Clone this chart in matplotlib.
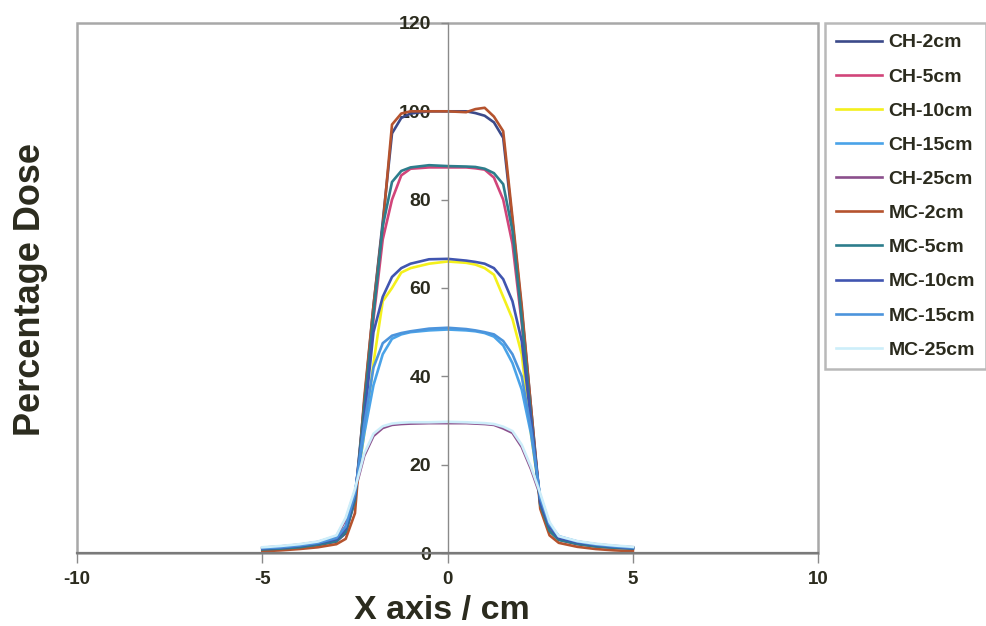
import matplotlib.pyplot as plt
from matplotlib.patches import Rectangle

# off-axis positions (cm)
x_pos = [-5, -4.5, -4, -3.5, -3, -2.75, -2.5, -2.25, -2, -1.75, -1.5, -1.25, -1, -0.5,
         0, 0.5, 0.75, 1, 1.25, 1.5, 1.75, 2, 2.25, 2.5, 2.75, 3, 3.5, 4, 4.5, 5]

# percentage dose profiles, convolution/superposition (CH) and Monte Carlo (MC)
ch_2 = [0.8, 1.0, 1.3, 1.8, 2.6, 4.5, 12, 34, 56, 75, 95, 98.5, 99.5, 100,
        100, 100, 99.6, 99, 97.5, 94, 75, 55, 33, 11, 5, 3, 2, 1.5, 1.2, 1.0]
ch_5 = [0.9, 1.1, 1.4, 2.0, 2.8, 5, 12.5, 32, 53, 71, 80, 85.5, 87, 87.3,
        87.3, 87.3, 87.1, 86.8, 85, 80, 70, 52, 31, 11.5, 5.5, 3.2, 2.2, 1.6, 1.3, 1.1]
ch_10 = [1.0, 1.2, 1.6, 2.2, 3.1, 5.5, 13, 27, 43, 57, 60, 63.5, 64.5, 65.5,
         66, 65.7, 65.3, 64.5, 63, 58, 53, 45, 27, 12, 6, 3.5, 2.4, 1.8, 1.4, 1.2]
ch_15 = [1.1, 1.3, 1.7, 2.3, 3.3, 6, 13.5, 27, 38, 45, 48.5, 49.5, 50, 50.4,
         50.6, 50.4, 50.2, 49.8, 49, 47, 43, 37, 27, 12.5, 6.5, 3.7, 2.5, 1.9, 1.5, 1.2]
ch_25 = [1.2, 1.5, 1.9, 2.5, 3.8, 7.5, 14, 22, 26.5, 28.3, 29, 29.2, 29.3, 29.4,
         29.4, 29.4, 29.3, 29.2, 29, 28.2, 27.2, 24, 19, 13, 6.5, 3.6, 2.6, 2.0, 1.6, 1.3]
mc_2 = [0.4, 0.6, 0.9, 1.3, 2.0, 3.2, 9, 35, 56, 74, 97, 99.5, 100, 100,
        100, 99.8, 100.5, 100.8, 98.8, 95.5, 76, 56, 33, 10, 4, 2.3, 1.4, 0.9, 0.6, 0.4]
mc_5 = [0.8, 1.0, 1.3, 1.9, 2.7, 4.8, 12, 33, 54, 74, 84, 86.5, 87.3, 87.8,
        87.6, 87.5, 87.4, 87, 86, 83.5, 73, 53, 31, 11, 5, 3, 2.1, 1.5, 1.2, 1.0]
mc_10 = [1.0, 1.2, 1.6, 2.2, 3.1, 5.5, 13, 30, 50, 58, 62.5, 64.5, 65.5, 66.5,
         66.6, 66.2, 65.9, 65.5, 64.5, 62, 57, 48, 30, 11.5, 6, 3.4, 2.4, 1.8, 1.4, 1.1]
mc_15 = [1.1, 1.3, 1.7, 2.3, 3.4, 6, 13.5, 29, 42, 47.5, 49.2, 49.8, 50.2, 50.8,
         51, 50.7, 50.4, 50, 49.5, 48, 45, 40, 28, 12.5, 6.5, 3.8, 2.6, 1.9, 1.5, 1.2]
mc_25 = [1.3, 1.6, 2.0, 2.6, 4.0, 8, 14.5, 22.5, 27, 28.7, 29.3, 29.5, 29.6, 29.6,
         29.7, 29.6, 29.5, 29.4, 29.2, 28.6, 27.6, 24.5, 19.5, 13.5, 7, 3.8, 2.7, 2.1, 1.7, 1.4]

labels = ["CH-2cm", "CH-5cm", "CH-10cm", "CH-15cm", "CH-25cm",
          "MC-2cm", "MC-5cm", "MC-10cm", "MC-15cm", "MC-25cm"]
profiles = [ch_2, ch_5, ch_10, ch_15, ch_25, mc_2, mc_5, mc_10, mc_15, mc_25]
colors = ["#3b4a8a", "#d1457a", "#f4f01c", "#4aa3e8", "#8b4f8c",
          "#b5532e", "#2d7d8c", "#4055b0", "#4c94dc", "#cdeefa"]

txt = "#2b2b1e"
frame = "#a8a8a8"
plt.rcParams['font.family'] = ['Liberation Sans', 'DejaVu Sans']
plt.rcParams['axes.unicode_minus'] = False

fig = plt.figure(figsize=(9.87, 6.26), dpi=100)
ax = fig.add_axes([0.078, 0.1166, 0.751, 0.8467])

for y, c, lab in zip(profiles, colors, labels):
    ax.plot(x_pos, y, color=c, lw=1.9, label=lab)

ax.set_xlim(-10, 10)
ax.set_ylim(0, 120)
ax.set_xticks([-10, -5, 0, 5, 10])
ax.set_yticks([0, 20, 40, 60, 80, 100, 120])

# y axis crosses at x = 0, plot area keeps a grey frame
ax.spines['left'].set_position(('data', 0))
ax.spines['left'].set_color("#8a8a8a")
ax.spines['left'].set_linewidth(1.0)
ax.spines['top'].set_visible(False)
ax.spines['right'].set_visible(False)
ax.spines['bottom'].set_color("#7a7a7a")
ax.spines['bottom'].set_linewidth(1.6)
ax.add_patch(Rectangle((0, 0), 1, 1, transform=ax.transAxes, fill=False,
                       edgecolor=frame, lw=1.8, clip_on=False, zorder=0))

ax.tick_params(axis='y', direction='out', length=5, width=1, color="#8a8a8a",
               pad=7, labelsize=14, labelcolor=txt)
ax.tick_params(axis='x', direction='out', length=7, width=1, color="#8a8a8a",
               pad=6, labelsize=13.5, labelcolor=txt)
for t in ax.get_xticklabels() + ax.get_yticklabels():
    t.set_fontweight('bold')

fig.text(0.448, 0.011, "X axis / cm", ha='center', va='baseline', fontsize=24.5,
         fontweight='bold', color=txt)
fig.text(0.031, 0.537, "Percentage Dose", ha='center', va='center', rotation=90,
         fontsize=26, fontweight='bold', color=txt)

leg = ax.legend(loc='upper left', bbox_to_anchor=(0.836, 0.963),
                bbox_transform=fig.transFigure, fancybox=False, frameon=True,
                prop={'weight': 'bold', 'size': 14}, labelcolor=txt,
                handlelength=2.4, handletextpad=0.3, labelspacing=0.85,
                borderpad=0.55, borderaxespad=0)
leg.get_frame().set_edgecolor(frame)
leg.get_frame().set_linewidth(1.8)

fig.savefig("out.png", dpi=100)
